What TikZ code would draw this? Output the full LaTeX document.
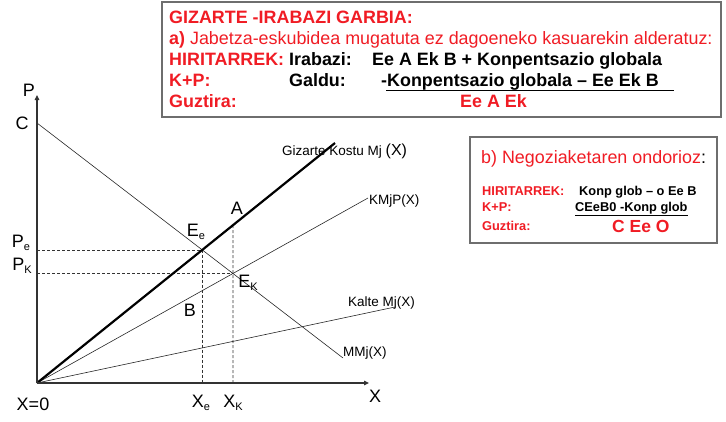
\documentclass[tikz,border=0pt]{standalone}
\usepackage{fontspec}
\setmainfont{Liberation Sans}
\usetikzlibrary{arrows.meta}
\definecolor{myred}{RGB}{240,28,36}
\definecolor{boxgray}{RGB}{110,110,110}
\begin{document}
\begin{tikzpicture}[x=1pt,y=-1pt,
  txt/.style={inner sep=0pt,anchor=base west},
  big/.style={txt,font=\fontsize{17.9}{21}\selectfont},
  bigb/.style={txt,font=\fontsize{17.9}{21}\selectfont\bfseries},
  smallb/.style={txt,font=\fontsize{12.8}{15}\selectfont\bfseries},
  axlab/.style={inner sep=0pt,font=\fontsize{18}{20}\selectfont},
  curvelab/.style={inner sep=0pt,anchor=west,font=\fontsize{13.5}{16}\selectfont},
  frame/.style={draw=boxgray,line width=1.2pt},
  axis/.style={draw=black!80,line width=1.2pt,-{Triangle[length=5pt,width=4.5pt]}},
  curve/.style={draw=black!85,line width=0.6pt},
  thickcurve/.style={draw=black,line width=2.2pt},
  guide/.style={draw=black!80,dashed,dash pattern=on 3pt off 2pt,line width=0.6pt}
]
\useasboundingbox (0,0) rectangle (726,421);

% ---------- top box ----------
\draw[frame] (162,2) rectangle (721,117);
\node[bigb,myred] (t1) at (169,23.7) {GIZARTE -IRABAZI GARBIA:};
\node[big,myred] (t2) at (169,44.7) {\textbf{a)} Jabetza-eskubidea mugatuta ez dagoeneko kasuarekin alderatuz:};
\node[bigb,myred] (t3a) at (169,65.7) {HIRITARREK:};
\node[bigb] (t3b) at (289,65.7) {Irabazi:};
\node[bigb] (t3c) at (372,65.7) {Ee A Ek B + Konpentsazio globala};
\node[bigb,myred] (t4a) at (169,86.7) {K+P:};
\node[bigb] (t4b) at (289,86.7) {Galdu:};
\node[bigb] (t4c) at (381,86.7) {-Konpentsazio globala – Ee Ek B};
\coordinate (u1) at (386,90.5);
\coordinate (u2) at (674,90.5);
\draw[line width=1.2pt] (u1) -- (u2);
\node[bigb,myred] (t5a) at (169,107.7) {Guztira:};
\node[bigb,myred] (t5b) at (460,107.7) {Ee A Ek};

% ---------- box b ----------
\draw[frame] (470,137) rectangle (717,243);
\node[big,myred] (b1) at (481,163) {b) Negoziaketaren ondorioz\textcolor{black}{:}};
\node[smallb,myred] (b2a) at (482,195.7) {HIRITARREK:};
\node[smallb] (b2b) at (579,195.7) {Konp glob – o Ee B};
\node[smallb,myred] (b3a) at (482,211.3) {K+P:};
\node[smallb] (b3b) at (575,211.3) {\underline{CEeB0 -Konp glob}};
\node[smallb,myred] (b4a) at (482,230) {Guztira:};
\node[txt,myred,font=\fontsize{17.5}{20}\selectfont\bfseries] (b4b) at (612,232) {C Ee O};

% ---------- graph ----------
\coordinate (O) at (37,383);
\coordinate (Ptop) at (37,95);
\coordinate (Xend) at (369,383);
\coordinate (C) at (37,123);
\coordinate (M) at (343,358);
\coordinate (S) at (335,143);
\coordinate (K) at (368,198);
\coordinate (L) at (395,307);

\coordinate (Ee) at (intersection of O--S and C--M);
\coordinate (Ek) at (intersection of O--K and C--M);
\coordinate (XeB) at (Ee |- O);
\coordinate (XkB) at (Ek |- O);
\coordinate (A) at (intersection of O--S and Ek--XkB);
\coordinate (PeL) at (O |- Ee);
\coordinate (PkL) at (O |- Ek);

\draw[guide] (PeL) -- (Ee) -- (XeB);
\draw[guide] (PkL) -- (Ek);
\draw[guide] (A) -- (XkB);

\draw[curve] (C) -- (M);
\draw[curve] (O) -- (K);
\draw[curve] (O) -- (L);
\draw[thickcurve] (O) -- (S);

\draw[axis] (O) -- (Ptop);
\draw[axis] (O) -- (Xend);

% axis labels
\node[axlab] (lP) at (29,90) {P};
\node[axlab] (lC) at (22,123) {C};
\node[axlab] (lPe) at (21,243) {P\raisebox{-0.35ex}{\fontsize{11}{12}\selectfont e}};
\node[axlab] (lPk) at (22,266) {P\raisebox{-0.35ex}{\fontsize{11}{12}\selectfont K}};
\node[axlab] (lX0) at (33,404) {X=0};
\node[axlab] (lXe) at (201,403) {X\raisebox{-0.35ex}{\fontsize{11}{12}\selectfont e}};
\node[axlab] (lXk) at (233,403) {X\raisebox{-0.35ex}{\fontsize{11}{12}\selectfont K}};
\node[axlab] (lX) at (375,396) {X};

% point labels
\node[axlab] (lEe) at (196,232) {E\raisebox{-0.35ex}{\fontsize{11}{12}\selectfont e}};
\node[axlab] (lA) at (237,208) {A};
\node[axlab] (lEk) at (248,283) {E\raisebox{-0.35ex}{\fontsize{11}{12}\selectfont K}};
\node[axlab] (lB) at (190,310) {B};

% curve labels
\node[curvelab] (cS) at (282,151) {Gizarte Kostu Mj {\fontsize{16}{18}\selectfont (X)}};
\node[curvelab] (cK) at (369,201) {KMjP(X)};
\node[curvelab] (cL) at (348,303) {Kalte Mj(X)};
\node[curvelab] (cM) at (343,353) {MMj(X)};
\end{tikzpicture}
\end{document}
